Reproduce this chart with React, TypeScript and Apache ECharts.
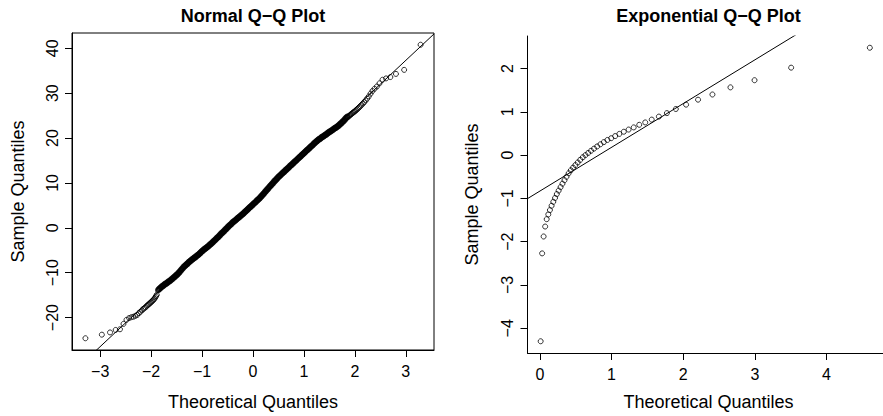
import React, { useEffect, useRef } from "react";
import * as echarts from "echarts";

// Normal Q-Q: theoretical normal quantiles and the sorted sample (tails point by point, dense body sampled along the band)
const normalTheoretical = [
  -3.2905, -2.9677, -2.807, -2.6968, -2.6121, -2.5427, -2.4838, -2.4324, -2.3867, -2.3455,
  -2.308, -2.2734, -2.2414, -2.2115, -2.1835, -2.1571, -2.1321, -2.1084, -2.0858, -2.0642,
  -2.0435, -2.0237, -2.0047, -1.9863, -1.9687, -1.9516, -1.9351, -1.9191, -1.9037, -1.8887,
  -1.86, -1.84, -1.82, -1.8, -1.78, -1.76, -1.74, -1.72, -1.7, -1.68,
  -1.66, -1.64, -1.62, -1.6, -1.58, -1.56, -1.54, -1.52, -1.5, -1.48,
  -1.46, -1.44, -1.42, -1.4, -1.38, -1.36, -1.34, -1.32, -1.3, -1.28,
  -1.26, -1.24, -1.22, -1.2, -1.18, -1.16, -1.14, -1.12, -1.1, -1.08,
  -1.06, -1.04, -1.02, -1.0, -0.98, -0.96, -0.94, -0.92, -0.9, -0.88,
  -0.86, -0.84, -0.82, -0.8, -0.78, -0.76, -0.74, -0.72, -0.7, -0.68,
  -0.66, -0.64, -0.62, -0.6, -0.58, -0.56, -0.54, -0.52, -0.5, -0.48,
  -0.46, -0.44, -0.42, -0.4, -0.38, -0.36, -0.34, -0.32, -0.3, -0.28,
  -0.26, -0.24, -0.22, -0.2, -0.18, -0.16, -0.14, -0.12, -0.1, -0.08,
  -0.06, -0.04, -0.02, 0.0, 0.02, 0.04, 0.06, 0.08, 0.1, 0.12,
  0.14, 0.16, 0.18, 0.2, 0.22, 0.24, 0.26, 0.28, 0.3, 0.32,
  0.34, 0.36, 0.38, 0.4, 0.42, 0.44, 0.46, 0.48, 0.5, 0.52,
  0.54, 0.56, 0.58, 0.6, 0.62, 0.64, 0.66, 0.68, 0.7, 0.72,
  0.74, 0.76, 0.78, 0.8, 0.82, 0.84, 0.86, 0.88, 0.9, 0.92,
  0.94, 0.96, 0.98, 1.0, 1.02, 1.04, 1.06, 1.08, 1.1, 1.12,
  1.14, 1.16, 1.18, 1.2, 1.22, 1.24, 1.26, 1.28, 1.3, 1.32,
  1.34, 1.36, 1.38, 1.4, 1.42, 1.44, 1.46, 1.48, 1.5, 1.52,
  1.54, 1.56, 1.58, 1.6, 1.62, 1.64, 1.66, 1.68, 1.7, 1.72,
  1.74, 1.76, 1.78, 1.8, 1.82, 1.84, 1.86,
  1.8887, 1.9037, 1.9191, 1.9351, 1.9516, 1.9687, 1.9863, 2.0047, 2.0237, 2.0435,
  2.0642, 2.0858, 2.1084, 2.1321, 2.1571, 2.1835, 2.2115, 2.2414, 2.2734, 2.308,
  2.3455, 2.3867, 2.4324, 2.4838, 2.5427, 2.6121, 2.6968, 2.807, 2.9677, 3.2905,
];

const normalSample = [
  -24.6, -23.8, -23.3, -22.75, -22.6, -21.4, -20.5, -20.1, -19.9, -19.8,
  -19.6, -19.4, -19.0, -18.7, -18.4, -18.1, -17.9, -17.7, -17.4, -17.2,
  -17.0, -16.8, -16.6, -16.4, -16.2, -16.0, -15.8, -15.5, -15.2, -14.9,
  -13.85, -13.6, -13.4, -13.2, -13.0, -12.85, -12.65, -12.5, -12.35, -12.2,
  -12.0, -11.85, -11.7, -11.5, -11.3, -11.1, -10.9, -10.7, -10.5, -10.3,
  -10.05, -9.8, -9.5, -9.25, -9.0, -8.7, -8.5, -8.3, -8.1, -7.9,
  -7.65, -7.45, -7.3, -7.1, -6.9, -6.75, -6.6, -6.4, -6.2, -6.05,
  -5.85, -5.65, -5.4, -5.2, -5.0, -4.8, -4.65, -4.45, -4.3, -4.1,
  -3.9, -3.7, -3.5, -3.3, -3.05, -2.85, -2.65, -2.4, -2.2, -2.0,
  -1.75, -1.5, -1.25, -1.05, -0.85, -0.6, -0.35, -0.15, 0.1, 0.35,
  0.55, 0.75, 0.95, 1.2, 1.4, 1.55, 1.75, 1.95, 2.15, 2.35,
  2.5, 2.75, 2.9, 3.1, 3.3, 3.55, 3.75, 3.95, 4.15, 4.4,
  4.6, 4.8, 5.0, 5.25, 5.45, 5.65, 5.85, 6.1, 6.3, 6.5,
  6.75, 7.0, 7.25, 7.5, 7.75, 8.05, 8.3, 8.55, 8.8, 9.1,
  9.35, 9.6, 9.85, 10.1, 10.4, 10.6, 10.85, 11.1, 11.35, 11.55,
  11.75, 12.0, 12.2, 12.4, 12.6, 12.85, 13.05, 13.25, 13.45, 13.7,
  13.9, 14.1, 14.3, 14.55, 14.75, 14.95, 15.15, 15.4, 15.6, 15.8,
  16.0, 16.25, 16.45, 16.65, 16.85, 17.1, 17.3, 17.5, 17.7, 17.95,
  18.15, 18.35, 18.55, 18.8, 19.0, 19.2, 19.4, 19.6, 19.75, 19.9,
  20.1, 20.25, 20.4, 20.55, 20.7, 20.85, 21.05, 21.2, 21.4, 21.5,
  21.65, 21.8, 22.0, 22.15, 22.3, 22.45, 22.6, 22.8, 23.0, 23.2,
  23.4, 23.65, 23.85, 24.1, 24.4, 24.6, 24.8,
  24.95, 25.1, 25.25, 25.4, 25.55, 25.7, 25.85, 26.0, 26.2, 26.4,
  26.6, 26.85, 27.1, 27.4, 27.7, 28.0, 28.4, 28.8, 29.3, 29.9,
  30.5, 31.0, 31.5, 32.2, 33.0, 33.3, 33.6, 34.3, 35.2, 40.8,
];

// Theoretical quantiles inside this band are so closely packed that the circles merge into one stroke
const denseBodyLimit = 1.87;

// Exponential Q-Q: 50 theoretical exponential quantiles and the sorted sample
const expTheoretical = [
  0.0101, 0.0305, 0.0513, 0.0726, 0.0943, 0.1165, 0.1393, 0.1625, 0.1863, 0.2107,
  0.2357, 0.2614, 0.2877, 0.3147, 0.3425, 0.3711, 0.4005, 0.4308, 0.462, 0.4943,
  0.5276, 0.5621, 0.5978, 0.6349, 0.6733, 0.7133, 0.755, 0.7985, 0.844, 0.8916,
  0.9416, 0.9943, 1.0498, 1.1087, 1.1712, 1.2379, 1.3093, 1.3863, 1.4697, 1.5606,
  1.6607, 1.772, 1.8971, 2.0402, 2.2073, 2.4079, 2.6593, 2.9957, 3.5066, 4.6052,
];

const expSample = [
  -4.3, -2.27, -1.88, -1.65, -1.48, -1.37, -1.27, -1.17, -1.08, -0.99,
  -0.9, -0.82, -0.74, -0.66, -0.58, -0.5, -0.42, -0.35, -0.29, -0.23,
  -0.17, -0.11, -0.05, 0.0, 0.05, 0.1, 0.15, 0.2, 0.25, 0.3,
  0.35, 0.39, 0.44, 0.49, 0.54, 0.59, 0.64, 0.7, 0.755, 0.82,
  0.89, 0.97, 1.065, 1.165, 1.28, 1.4, 1.565, 1.73, 2.02, 2.48,
];

// Reference lines through the quartiles
const normalLine = { intercept: 5.43, slope: 10.63 };
const expLine = { intercept: -0.83, slope: 1.01 };

// Tick values
const normalTicksX = [-3, -2, -1, 0, 1, 2, 3];
const normalTicksY = [-20, -10, 0, 10, 20, 30, 40];
const expTicksX = [0, 1, 2, 3, 4];
const expTicksY = [-4, -3, -2, -1, 0, 1, 2];

const FONT = "'Liberation Sans', Arial, Helvetica, sans-serif";
const INK = "#000";

// R-style axis range: data range extended by 4% on each side
function paddedRange(values: number[]): [number, number] {
  const lo = Math.min(...values);
  const hi = Math.max(...values);
  const d = (hi - lo) * 0.04;
  return [lo - d, hi + d];
}

const minusSign = (v: number) => String(v).replace("-", "\u2212");

function valueAxis(
  gridIndex: number,
  range: [number, number],
  ticks: number[],
  vertical: boolean
) {
  return {
    type: "value",
    gridIndex,
    min: range[0],
    max: range[1],
    splitLine: { show: false },
    axisLine: { show: true, onZero: false, lineStyle: { color: INK, width: 1 } },
    axisTick: {
      show: true,
      inside: false,
      length: 7,
      customValues: ticks,
      lineStyle: { color: INK, width: 1 },
    },
    axisLabel: {
      show: true,
      customValues: ticks,
      formatter: minusSign,
      rotate: vertical ? 90 : 0,
      margin: vertical ? 12 : 13,
      fontFamily: FONT,
      fontSize: 16,
      color: INK,
    },
  };
}

function pointsOf(xs: number[], ys: number[], keep: (x: number) => boolean) {
  return xs.map((x, i) => [x, ys[i]]).filter((p) => keep(p[0]));
}

function lineOver(range: [number, number], line: { intercept: number; slope: number }) {
  return range.map((x) => [x, line.intercept + line.slope * x]);
}

export default function App() {
  const ref = useRef<HTMLDivElement>(null);

  useEffect(() => {
    if (!ref.current) return;
    const chart = echarts.init(ref.current, null, { renderer: "svg" });

    const nx = paddedRange(normalTheoretical);
    const ny = paddedRange(normalSample);
    const ex = paddedRange(expTheoretical);
    const ey = paddedRange(expSample);

    const pointStyle = {
      type: "scatter",
      symbol: "circle",
      symbolSize: 5,
      itemStyle: { color: "rgba(0,0,0,0)", borderColor: INK, borderWidth: 1 },
      emphasis: { disabled: true },
      silent: true,
      clip: true,
    };
    // overplotted circles in the body of the distribution
    const denseStyle = {
      ...pointStyle,
      symbolSize: 4.6,
      itemStyle: { color: "rgba(0,0,0,0)", borderColor: INK, borderWidth: 2 },
    };
    const lineStyle = {
      type: "line",
      showSymbol: false,
      symbol: "none",
      lineStyle: { color: INK, width: 1 },
      emphasis: { disabled: true },
      silent: true,
      clip: true,
    };

    const text = (
      t: string,
      x: number,
      y: number,
      opts: { bold?: boolean; rotate?: boolean; size?: number } = {}
    ) => ({
      type: "text",
      x,
      y,
      rotation: opts.rotate ? Math.PI / 2 : 0,
      silent: true,
      style: {
        text: t,
        fill: INK,
        font: `${opts.bold ? "bold " : ""}${opts.size ?? 18}px ${FONT}`,
        textAlign: "center",
        textVerticalAlign: "middle",
      },
    });

    const inBody = (x: number) => Math.abs(x) < denseBodyLimit;

    chart.setOption({
      animation: false,
      backgroundColor: "#fff",
      grid: [
        { left: 72, top: 33, width: 362, height: 317, show: true, borderColor: INK, borderWidth: 1, backgroundColor: "transparent" },
        { left: 527.5, top: 36, width: 362, height: 317 },
      ],
      xAxis: [valueAxis(0, nx, normalTicksX, false), valueAxis(1, ex, expTicksX, false)],
      yAxis: [valueAxis(0, ny, normalTicksY, true), valueAxis(1, ey, expTicksY, true)],
      series: [
        { ...pointStyle, xAxisIndex: 0, yAxisIndex: 0, data: pointsOf(normalTheoretical, normalSample, (x) => !inBody(x)) },
        { ...denseStyle, xAxisIndex: 0, yAxisIndex: 0, data: pointsOf(normalTheoretical, normalSample, inBody) },
        { ...lineStyle, xAxisIndex: 0, yAxisIndex: 0, data: lineOver(nx, normalLine) },
        { ...pointStyle, xAxisIndex: 1, yAxisIndex: 1, data: pointsOf(expTheoretical, expSample, () => true) },
        { ...lineStyle, xAxisIndex: 1, yAxisIndex: 1, data: lineOver(ex, expLine) },
      ],
      graphic: [
        text("Normal Q\u2212Q Plot", 253, 16, { bold: true }),
        text("Exponential Q\u2212Q Plot", 708.5, 16, { bold: true }),
        text("Theoretical Quantiles", 253, 402),
        text("Theoretical Quantiles", 708.5, 402),
        text("Sample Quantiles", 18, 191.5, { rotate: true }),
        text("Sample Quantiles", 472, 194.5, { rotate: true }),
      ],
    });

    return () => chart.dispose();
  }, []);

  return (
    <div
      ref={ref}
      style={{ position: "fixed", left: 0, top: 0, width: 883, height: 416, background: "#fff" }}
    />
  );
}
